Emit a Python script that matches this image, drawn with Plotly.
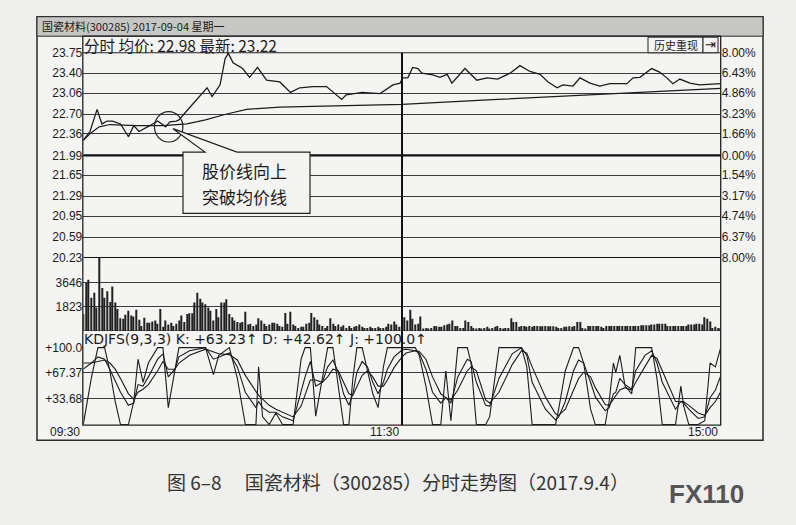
import plotly.graph_objects as go

W, H = 796, 525

# ---------------- data ----------------
prev_close = 21.99
price_ticks = [23.75, 23.40, 23.06, 22.70, 22.36, 21.99, 21.65, 21.29, 20.95, 20.59, 20.23]
pct_labels = ["8.00%", "6.43%", "4.86%", "3.23%", "1.66%", "0.00%",
              "1.54%", "3.17%", "4.74%", "6.37%", "8.00%"]
vol_ticks = [1823, 3646]
kdj_ticks = [33.68, 67.37, 100.0]
kdj_tick_labels = ["+33.68", "+67.37", "+100.0"]
time_labels = ["09:30", "11:30", "15:00"]
time_pos = [0, 120, 240]

price_t = [0, 2.5, 5.2, 7, 9, 11, 14, 17, 19, 21, 25, 28, 31, 32.6, 35, 36, 38.5, 43.5,
           46.6, 48.5, 51.5, 53.4, 54.6, 56.4, 60, 62.6, 65.6, 69, 74, 78, 81.5, 86.5,
           91.6, 97.3, 99, 105, 111.7, 116.6, 119.3, 120.3, 122.2, 124, 126, 127.5,
           131.6, 134.3, 137, 138.8, 140.7, 143.7, 148.2, 152, 156, 160.7, 164.4, 168.2,
           172, 175, 178.4, 180.6, 184.4, 187, 190.8, 194.5, 198.3, 204.7, 207, 209.6,
           214, 217, 219.7, 222, 224.6, 228.4, 232, 237, 240]
price_v = [22.25, 22.40, 22.78, 22.53, 22.58, 22.58, 22.53, 22.31, 22.50, 22.40, 22.50,
           22.58, 22.48, 22.565, 22.58, 22.60, 22.73, 22.98, 23.15, 23.00, 23.20, 23.65,
           23.74, 23.58, 23.48, 23.33, 23.50, 23.28, 23.25, 23.07, 23.15, 23.17, 23.17,
           22.95, 23.03, 23.07, 23.05, 23.20, 23.23, 23.32, 23.32, 23.50, 23.48, 23.40,
           23.37, 23.33, 23.38, 23.23, 23.33, 23.48, 23.28, 23.32, 23.30, 23.40, 23.53,
           23.43, 23.38, 23.25, 23.15, 23.20, 23.18, 23.32, 23.23, 23.18, 23.22, 23.22,
           23.32, 23.33, 23.48, 23.42, 23.32, 23.22, 23.30, 23.23, 23.20, 23.22, 23.22]

avg_t = [0, 3, 6, 10, 20, 30, 39, 46, 54, 61.5, 74, 99, 119, 120, 156, 194, 240]
avg_v = [22.25, 22.38, 22.48, 22.52, 22.50, 22.50, 22.53, 22.60, 22.70, 22.78, 22.82,
         22.85, 22.865, 22.865, 22.95, 23.04, 23.14]

vol_am = [1290, 3600, 3840, 2500, 2870, 1770, 6000, 3230, 2500, 2990, 2190, 3350, 2140,
          1650, 970, 920, 1220, 1530, 1170, 1090, 1600, 850, 390, 1000, 630, 630, 730,
          800, 560, 1650, 320, 800, 490, 630, 390, 560, 800, 1170, 680, 1290, 1340, 1340,
          2140, 2870, 2430, 2140, 2020, 1770, 1530, 800, 1650, 1040, 2140, 2140, 2380,
          1290, 1040, 800, 680, 630, 680, 1460, 490, 560, 390, 490, 970, 800, 560, 390,
          490, 630, 630, 560, 390, 320, 1360, 560, 1460, 490, 390, 240, 320, 320, 560,
          630, 1360, 1040, 850, 490, 390, 240, 390, 970, 560, 390, 490, 320, 440, 240,
          390, 240, 320, 390, 490, 320, 240, 240, 320, 240, 240, 320, 240, 240, 320, 560,
          490, 730, 490, 320]
vol_pm = [1040, 800, 1600, 920, 490, 560, 1090, 190, 240, 190, 240, 390, 360, 320, 320,
          440, 490, 560, 800, 390, 390, 240, 240, 800, 680, 390, 240, 190, 240, 190, 240,
          320, 190, 240, 320, 390, 240, 190, 240, 240, 970, 680, 680, 320, 390, 390, 320,
          390, 320, 390, 390, 360, 360, 390, 360, 360, 360, 320, 240, 240, 320, 320, 360,
          320, 390, 680, 680, 240, 190, 390, 390, 390, 390, 390, 320, 240, 390, 390, 390,
          390, 390, 390, 390, 390, 390, 390, 390, 390, 390, 440, 440, 440, 440, 490, 490,
          560, 560, 560, 560, 390, 390, 390, 390, 390, 390, 390, 390, 490, 490, 490, 560,
          560, 490, 1040, 920, 730, 240, 320, 240, 190]

kdj_t = [0, 3, 5.5, 8, 10, 12, 14, 17, 19, 20.6, 22.5, 24.5, 28, 30, 32, 34.5, 36, 40, 46,
         49, 51, 55, 58, 61, 65, 66, 67.5, 70, 72.5, 75, 79, 82, 83.5, 85.5, 87.5, 90, 92,
         94, 96, 98, 100, 101.5, 103, 105, 107, 109, 111, 113, 114.5, 117, 120, 121.5,
         125, 126.5, 129, 131.5, 134.6, 136.5, 138.4, 141, 144.6, 146, 148, 151.5, 153,
         156.5, 161.5, 165, 167, 169, 174, 177.8, 179, 181.5, 184.6, 186.5, 188.4, 191,
         192.8, 196.5, 198, 199.6, 200.5, 202, 204, 206.5, 208, 211.5, 214, 216, 218, 223,
         225, 226, 228, 231.5, 234, 236, 238, 240]
kdj_j = [0, 60, 100, 100, 70, 30, 0, 0, 30, 85, 55, 80, 100, 100, 22, 70, 100, 100, 100,
         65, 90, 100, 60, 0, 0, 75, 10, 0, 15, 0, 0, 85, 100, 100, 11, 60, 100, 100, 50, 0,
         0, 60, 100, 100, 70, 40, 22, 75, 100, 100, 100, 100, 100, 90, 50, 0, 0, 70, 5, 100,
         100, 80, 0, 0, 10, 100, 100, 100, 75, 0, 0, 0, 20, 70, 100, 100, 80, 20, 0, 0, 30,
         80, 68, 90, 50, 40, 100, 100, 100, 60, 0, 0, 50, 25, 0, 0, 5, 80, 75, 100]
kdj_k = [72, 80, 88, 85, 72, 58, 42, 25, 28, 52, 50, 62, 85, 92, 62, 72, 88, 96, 100, 85,
         88, 93, 75, 42, 22, 30, 22, 16, 16, 10, 5, 42, 62, 82, 50, 55, 75, 84, 68, 40, 25,
         40, 68, 82, 75, 55, 40, 55, 72, 88, 97, 98, 96, 93, 72, 42, 28, 35, 28, 62, 85, 82,
         55, 25, 24, 60, 92, 100, 90, 55, 20, 6, 10, 30, 70, 84, 80, 55, 36, 18, 22, 40, 42,
         60, 52, 46, 70, 90, 96, 80, 55, 20, 30, 28, 20, 8, 10, 35, 45, 63.23]
kdj_d = [80, 80, 82, 84, 80, 72, 60, 40, 33, 42, 46, 52, 70, 82, 72, 72, 80, 90, 98, 94,
         92, 91, 84, 64, 42, 38, 33, 25, 20, 16, 10, 24, 38, 58, 58, 55, 62, 72, 70, 55, 40,
         38, 50, 64, 70, 62, 50, 50, 58, 74, 88, 93, 96, 95, 85, 62, 40, 35, 32, 45, 70, 75,
         70, 32, 28, 42, 78, 96, 93, 75, 36, 14, 12, 20, 45, 60, 68, 62, 48, 26, 25, 33, 36,
         45, 48, 45, 55, 76, 90, 86, 70, 30, 30, 30, 25, 15, 12, 22, 30, 42.62]

# ---------------- helpers (pixel -> paper) ----------------
def fx(x):
    return x / W

def fy(y):
    return 1 - y / H

INK = "#1c1c1c"
GRID = "#3c3c3c"
LAT = "Liberation Sans, Arial, sans-serif"
CJK = "Noto Sans CJK SC, sans-serif"

vol_t = list(range(0, 120)) + list(range(121, 241))
vol_v = vol_am + vol_pm

fig = go.Figure()
fig.add_trace(go.Bar(x=vol_t, y=vol_v, width=0.42, marker=dict(color="#202020", line=dict(width=0)),
                     xaxis="x", yaxis="y3", hoverinfo="skip"))
fig.add_trace(go.Scatter(x=avg_t, y=avg_v, mode="lines", line=dict(color=INK, width=1.2),
                         xaxis="x", yaxis="y"))
fig.add_trace(go.Scatter(x=price_t, y=price_v, mode="lines", line=dict(color=INK, width=1.3),
                         xaxis="x", yaxis="y"))
fig.add_trace(go.Scatter(x=[0, 240], y=[prev_close, prev_close], mode="lines",
                         line=dict(width=0), opacity=0, xaxis="x", yaxis="y2", hoverinfo="skip"))
for arr in (kdj_j, kdj_k, kdj_d):
    fig.add_trace(go.Scatter(x=kdj_t, y=arr, mode="lines", line=dict(color=INK, width=1.1),
                             xaxis="x", yaxis="y4"))

lo = 20.2292
hi = 23.7508
tickfont = dict(family=LAT, size=12, color=INK)

fig.update_layout(
    width=W, height=H, autosize=False,
    margin=dict(l=0, r=0, t=0, b=0),
    paper_bgcolor="#efefed", plot_bgcolor="rgba(0,0,0,0)",
    showlegend=False,
    xaxis=dict(domain=[fx(83.3), fx(720.7)], range=[0, 240], showticklabels=False,
               showgrid=False, zeroline=False, showline=False, anchor="y4", fixedrange=True),
    yaxis=dict(domain=[fy(258), fy(47)], range=[lo, hi], tickvals=price_ticks,
               ticktext=[f"{v:.2f}" for v in price_ticks], showgrid=True, gridcolor=GRID,
               gridwidth=1, zeroline=False, showline=False, ticks="", tickfont=tickfont,
               anchor="x", side="left"),
    yaxis2=dict(domain=[fy(258), fy(47)], range=[lo, hi], tickvals=price_ticks, ticktext=pct_labels,
                overlaying="y", side="right", showgrid=False, zeroline=False, ticks="",
                tickfont=tickfont, anchor="x"),
    yaxis3=dict(domain=[fy(333), fy(258)], range=[0, 5469], tickvals=vol_ticks,
                ticktext=[str(v) for v in vol_ticks], showgrid=True, gridcolor=GRID, gridwidth=1,
                zeroline=False, ticks="", tickfont=tickfont, anchor="x"),
    yaxis4=dict(domain=[fy(429.8), fy(349.2)], range=[-1, 101], tickvals=kdj_ticks,
                ticktext=kdj_tick_labels, showgrid=True, gridcolor=GRID, gridwidth=1,
                zeroline=False, ticks="", tickfont=tickfont, anchor="x"),
)

shapes = []
shapes.append(dict(type="rect", xref="paper", yref="paper", x0=fx(37), x1=fx(763), y0=fy(445), y1=fy(10),
                   fillcolor="#f4f4f2", line=dict(color="#2a2a2a", width=1.5), layer="below"))
shapes.append(dict(type="rect", xref="paper", yref="paper", x0=fx(37), x1=fx(763), y0=fy(30), y1=fy(10),
                   fillcolor="#c6c6c4", line=dict(color="#2a2a2a", width=1), layer="below"))
shapes.append(dict(type="rect", xref="paper", yref="paper", x0=fx(82.8), x1=fx(720.7), y0=fy(429.5), y1=fy(30),
                   line=dict(color="#222", width=1.3)))
shapes.append(dict(type="line", xref="paper", yref="paper", x0=fx(82.8), x1=fx(720.7), y0=fy(47), y1=fy(47),
                   line=dict(color="#222", width=1.2)))
shapes.append(dict(type="line", xref="x", yref="y", x0=0, x1=240, y0=prev_close, y1=prev_close,
                   line=dict(color="#111", width=2.2)))
shapes.append(dict(type="line", xref="x", yref="y", x0=0, x1=240, y0=lo, y1=lo,
                   line=dict(color="#111", width=2.2)))
shapes.append(dict(type="line", xref="x", yref="y3", x0=0, x1=240, y0=0, y1=0,
                   line=dict(color="#222", width=1.2)))
shapes.append(dict(type="line", xref="x", yref="paper", x0=120, x1=120, y0=fy(429.5), y1=fy(47),
                   line=dict(color="#111", width=2)))
shapes.append(dict(type="rect", xref="paper", yref="paper", x0=fx(648), x1=fx(703), y0=fy(47), y1=fy(31),
                   fillcolor="#f4f4f2", line=dict(color="#222", width=1)))
shapes.append(dict(type="rect", xref="paper", yref="paper", x0=fx(703), x1=fx(718), y0=fy(47), y1=fy(31),
                   fillcolor="#f4f4f2", line=dict(color="#222", width=1)))
shapes.append(dict(type="circle", xref="x", yref="y", x0=26.8, x1=37.5, y0=22.22, y1=22.74,
                   line=dict(color="#222", width=1.2)))
pts = [(183, 149), (205, 149), (173, 125), (237, 149), (310, 149), (310, 212), (183, 212)]
path = "M " + " L ".join(f"{fx(a):.5f},{fy(b):.5f}" for a, b in pts) + " Z"
shapes.append(dict(type="path", xref="paper", yref="paper", path=path, fillcolor="#f4f4f2",
                   line=dict(color="#222", width=1.2)))
fig.update_layout(shapes=shapes)

ann = []
def text(x, y, s, size, family=LAT, xanchor="left", color=INK):
    ann.append(dict(xref="paper", yref="paper", x=fx(x), y=fy(y), text=s, showarrow=False,
                    xanchor=xanchor, yanchor="middle", font=dict(family=family, size=size, color=color)))

text(40, 20, "国瓷材料(300285) 2017-09-04 星期一", 11, family=CJK)
text(82, 39, "分时 均价: 22.98 最新: 23.22", 15.5, family=CJK)
text(675.5, 39, "历史重现", 11, family=CJK, xanchor="center")
text(710.5, 39, "⇥", 13, family="DejaVu Sans", xanchor="center")
text(82, 341, "KDJFS(9,3,3) K: +63.23↑ D: +42.62↑ J: +100.0↑", 14, family="DejaVu Sans")
for lab, pos in zip(time_labels, time_pos):
    ann.append(dict(xref="x", yref="paper", x=pos, y=fy(437), text=lab, showarrow=False,
                    xanchor="right", yanchor="middle", xshift=-1,
                    font=dict(family=LAT, size=12, color=INK)))
text(245, 168, "股价线向上", 17, family=CJK, xanchor="center")
text(245, 195, "突破均价线", 17, family=CJK, xanchor="center")
text(398, 487, "图 6–8　 国瓷材料（300285）分时走势图（2017.9.4）", 19, family=CJK, xanchor="center",
     color="#333")
text(706, 500, "<b>FX110</b>", 26, family=LAT, xanchor="center", color="#555")
fig.update_layout(annotations=ann)

fig.write_html("out.html", config={"displayModeBar": False},
               post_script="document.body.style.margin='0';")
